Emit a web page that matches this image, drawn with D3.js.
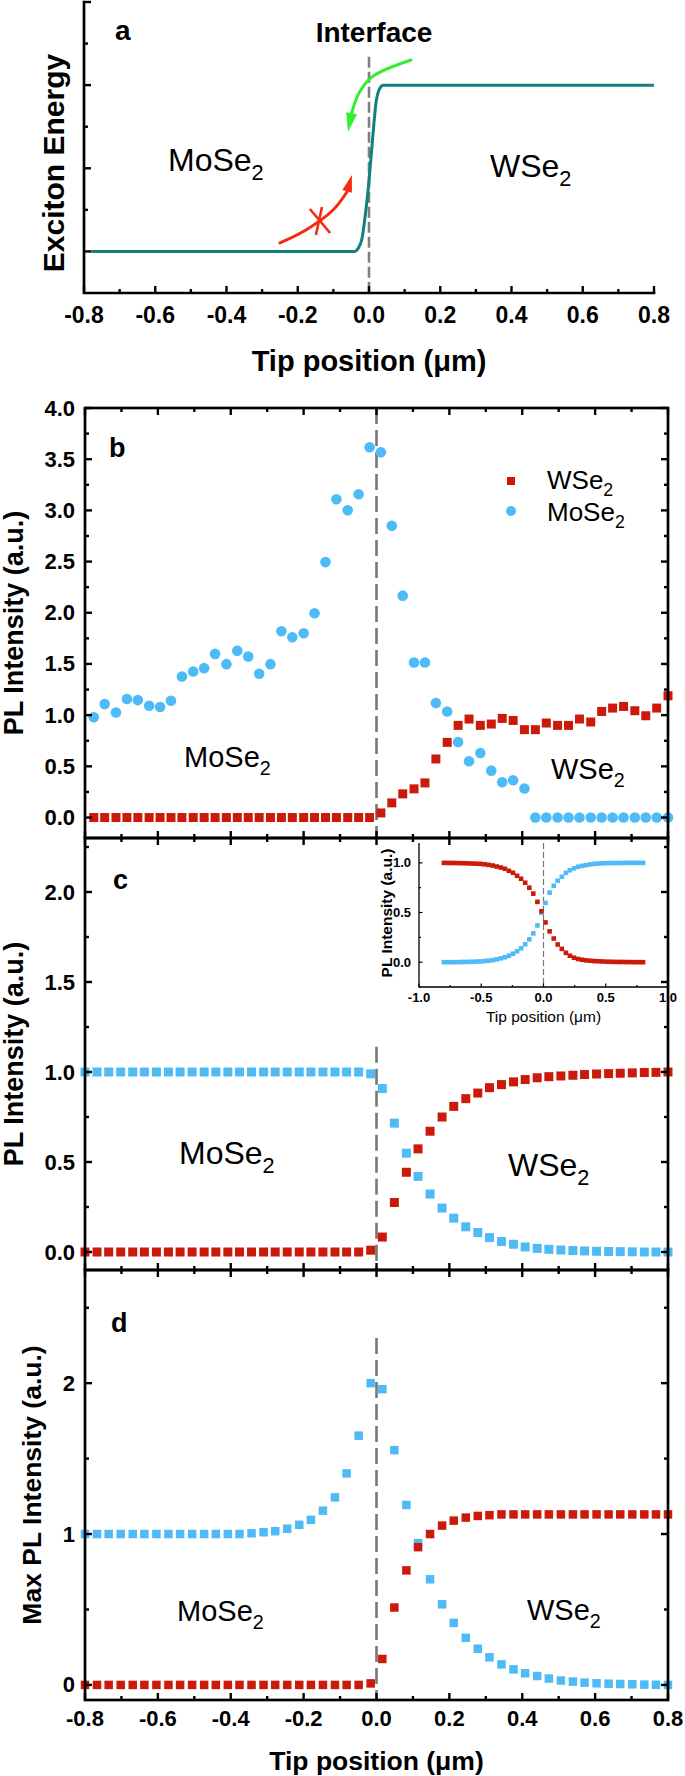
<!DOCTYPE html>
<html><head><meta charset="utf-8">
<script src="https://cdn.jsdelivr.net/npm/d3@7"></script>
<style>
body{margin:0;background:#fff}
svg{display:block}
text{font-family:"Liberation Sans",Arial,Helvetica,sans-serif;fill:#000}
</style></head>
<body><svg id="fig" width="685" height="1776"></svg>
<script>
// ---------- DATA ----------
// panel a: schematic exciton energy step
const aX = [-0.78, -0.04, -0.03, -0.02, -0.01, 0, 0.01, 0.02, 0.03, 0.04, 0.8];
const aY = [1, 1, 1.04, 1.15, 1.45, 1.85, 2.35, 2.8, 2.96, 3, 3];
const aYMajor = [1, 2, 3, 4];
const aYMinor = [1.5, 2.5, 3.5];
// annotation arrows in panel a (data coordinates)
const greenArrow = [[0.118, 3.302], [0.008, 3.098], [-0.028, 2.906], [-0.048, 2.677]];
const greenTip = [-0.059, 2.437];
const redArrow = [[-0.25, 1.103], [-0.177, 1.258], [-0.101, 1.498], [-0.062, 1.715]];
const redTip = [-0.048, 1.919];
const redCross = [[[-0.166, 1.510], [-0.109, 1.222]], [[-0.132, 1.534], [-0.149, 1.198]]];

// shared x ticks
const xMajor = [-0.8, -0.6, -0.4, -0.2, 0, 0.2, 0.4, 0.6, 0.8];
const xMinor = [-0.7, -0.5, -0.3, -0.1, 0.1, 0.3, 0.5, 0.7];
const xLabels = ["-0.8", "-0.6", "-0.4", "-0.2", "0.0", "0.2", "0.4", "0.6", "0.8"];

// panel b: measured PL intensity
const bX = [-0.776, -0.746, -0.715, -0.685, -0.655, -0.624, -0.594, -0.564, -0.534, -0.503,
  -0.473, -0.443, -0.412, -0.382, -0.352, -0.322, -0.291, -0.261, -0.231, -0.200,
  -0.170, -0.140, -0.110, -0.079, -0.049, -0.019, 0.012, 0.042, 0.072, 0.103,
  0.133, 0.163, 0.194, 0.224, 0.254, 0.285, 0.315, 0.345, 0.375, 0.406,
  0.436, 0.466, 0.497, 0.527, 0.557, 0.588, 0.618, 0.648, 0.678, 0.709,
  0.739, 0.769, 0.800];
const bMoSe2 = [0.98, 1.108, 1.026, 1.157, 1.147, 1.092, 1.079, 1.14, 1.377, 1.426,
  1.459, 1.598, 1.498, 1.628, 1.572, 1.404, 1.498, 1.82, 1.76, 1.80,
  1.995, 2.495, 3.109, 3.002, 3.158, 3.616, 3.567, 2.849, 2.167, 1.514,
  1.514, 1.118, 1.036, 0.737, 0.549, 0.63, 0.458, 0.344, 0.364, 0.283,
  0, 0, 0, 0, 0, 0, 0, 0, 0, 0, 0, 0, 0];
const bWSe2 = [0, 0, 0, 0, 0, 0, 0, 0, 0, 0, 0, 0, 0, 0, 0, 0, 0, 0, 0, 0, 0, 0, 0, 0, 0, 0,
  0.045, 0.143, 0.231, 0.28, 0.338, 0.572, 0.734, 0.90, 0.962, 0.90,
  0.913, 0.968, 0.948, 0.858, 0.858, 0.923, 0.90, 0.90, 0.962, 0.933,
  1.036, 1.069, 1.085, 1.043, 0.994, 1.069, 1.189];
const bYMajor = [0, 0.5, 1, 1.5, 2, 2.5, 3, 3.5, 4];
const bYMinor = [0.25, 0.75, 1.25, 1.75, 2.25, 2.75, 3.25, 3.75];

// panels c, d, inset: simulated
const cdX = [-0.800, -0.767, -0.735, -0.702, -0.669, -0.637, -0.604, -0.571, -0.539, -0.506,
  -0.473, -0.441, -0.408, -0.376, -0.343, -0.310, -0.278, -0.245, -0.212, -0.180,
  -0.147, -0.114, -0.082, -0.049, -0.016, 0.016, 0.049, 0.082, 0.114, 0.147,
  0.180, 0.212, 0.245, 0.278, 0.310, 0.343, 0.376, 0.408, 0.441, 0.473,
  0.506, 0.539, 0.571, 0.604, 0.637, 0.669, 0.702, 0.735, 0.767, 0.800];
const cWSe2 = [0, 0, 0, 0, 0, 0, 0, 0, 0, 0, 0, 0, 0, 0, 0, 0, 0, 0, 0, 0, 0, 0, 0, 0, 0.01,
  0.083, 0.275, 0.443, 0.573, 0.671, 0.75, 0.809, 0.852, 0.883, 0.913,
  0.93, 0.945, 0.958, 0.968, 0.974, 0.978, 0.982, 0.986, 0.989, 0.991,
  0.993, 0.995, 0.997, 0.998, 1.0];
const cMoSe2 = [1, 1, 1, 1, 1, 1, 1, 1, 1, 1, 1, 1, 1, 1, 1, 1, 1, 1, 1, 1, 1, 1, 1, 1, 0.99,
  0.908, 0.716, 0.549, 0.42, 0.322, 0.244, 0.188, 0.14, 0.108, 0.08,
  0.058, 0.043, 0.028, 0.02, 0.015, 0.011, 0.008, 0.006, 0.004, 0.003,
  0.002, 0.001, 0, 0, 0];
const cYMajor = [0, 0.5, 1, 1.5, 2];
const cYMinor = [0.25, 0.75, 1.25, 1.75, 2.25];

const dWSe2 = [0, 0, 0, 0, 0, 0, 0, 0, 0, 0, 0, 0, 0, 0, 0, 0, 0, 0, 0, 0, 0, 0, 0, 0, 0.01,
  0.172, 0.513, 0.759, 0.913, 1.0, 1.056, 1.089, 1.109, 1.12, 1.125,
  1.13, 1.13, 1.13, 1.13, 1.13, 1.13, 1.13, 1.13, 1.13, 1.13, 1.13, 1.13, 1.13, 1.13, 1.13];
const dMoSe2 = [1, 1, 1, 1, 1, 1, 1, 1, 1, 1, 1, 1, 1, 1,
  1.005, 1.012, 1.019, 1.035, 1.061, 1.094, 1.155, 1.243, 1.402, 1.652, 2.0,
  1.96, 1.556, 1.193, 0.94, 0.70, 0.534, 0.411, 0.312, 0.24, 0.183,
  0.136, 0.103, 0.077, 0.059, 0.042, 0.029, 0.022, 0.015, 0.011, 0.008,
  0.006, 0.004, 0.002, 0.001, 0];
const dYMajor = [0, 1, 2];
const dYMinor = [0.5, 1.5, 2.5];

const insWSe2 = [1.0, 0.999, 0.999, 0.998, 0.997, 0.996, 0.995, 0.993, 0.992, 0.99,
  0.985, 0.98, 0.973, 0.963, 0.953, 0.94, 0.92, 0.90, 0.87, 0.84,
  0.80, 0.75, 0.69, 0.607, 0.513, 0.40, 0.31, 0.238, 0.178, 0.134,
  0.094, 0.065, 0.045, 0.032, 0.024, 0.018, 0.014, 0.011, 0.009, 0.007,
  0.005, 0.004, 0.003, 0.002, 0.002, 0.001, 0.001, 0, 0, 0];
const insMoSe2 = [0, 0, 0, 0, 0.001, 0.002, 0.003, 0.004, 0.006, 0.008,
  0.011, 0.015, 0.02, 0.028, 0.038, 0.05, 0.065, 0.085, 0.11, 0.14,
  0.18, 0.23, 0.29, 0.37, 0.497, 0.597, 0.70, 0.77, 0.82, 0.86,
  0.90, 0.925, 0.945, 0.96, 0.97, 0.978, 0.985, 0.99, 0.993, 0.995,
  0.997, 0.998, 0.998, 0.999, 0.999, 1.0, 1.0, 1.0, 1.0, 1.0];
const insXMajor = [-1, -0.5, 0, 0.5, 1];
const insXMinor = [-0.75, -0.25, 0.25, 0.75];
const insXLabels = ["-1.0", "-0.5", "0.0", "0.5", "1.0"];
const insYMajor = [0, 0.5, 1];
const insYMinor = [-0.25, 0.25, 0.75];

// ---------- STYLE ----------
const RED = "#cc1a0a", BLUE = "#4fbbf6", TEAL = "#138080";
const svg = d3.select("#fig");
const AXW = 2.7;

function sub(sel, main, s, fs, x, y) {
  const t = sel.append("text").attr("x", x).attr("y", y).attr("font-size", fs).text(main);
  t.append("tspan").attr("font-size", fs * 0.68).attr("dy", fs * 0.28).text(s);
  return t;
}
function boldText(x, y, fs, str, anchor) {
  return svg.append("text").attr("x", x).attr("y", y).attr("font-size", fs)
    .attr("font-weight", "bold").attr("text-anchor", anchor || "start").text(str);
}
function vTitle(x, y, fs, str) {
  svg.append("text").attr("transform", `translate(${x},${y}) rotate(-90)`)
    .attr("font-size", fs).attr("font-weight", "bold").attr("text-anchor", "middle").text(str);
}
function tick(g, x1, y1, x2, y2, w) {
  g.append("line").attr("x1", x1).attr("y1", y1).attr("x2", x2).attr("y2", y2)
    .attr("stroke", "#000").attr("stroke-width", w || 2.4);
}

// ---------- PANEL A ----------
const xa = d3.scaleLinear([-0.8, 0.8], [84, 654]);
const ya = d3.scaleLinear([0.5, 4], [293, 2]);
const ga = svg.append("g");
ga.append("line").attr("x1", xa(0)).attr("x2", xa(0)).attr("y1", ya(3.34)).attr("y2", ya(0.5))
  .attr("stroke", "#808080").attr("stroke-width", 2.6).attr("stroke-dasharray", "11,4");
ga.append("path").attr("d", d3.line().x((d, i) => xa(aX[i])).y((d, i) => ya(aY[i])).curve(d3.curveMonotoneX)(aX))
  .attr("fill", "none").attr("stroke", TEAL).attr("stroke-width", 3);

function arrow(pts, tip, color, hl, hw) {
  const P = pts.map(p => [xa(p[0]), ya(p[1])]);
  const T = [xa(tip[0]), ya(tip[1])];
  const last = P[P.length - 1];
  ga.append("path").attr("d", d3.line().curve(d3.curveCatmullRom)(P))
    .attr("fill", "none").attr("stroke", color).attr("stroke-width", 3).attr("stroke-linecap", "round");
  const dx = T[0] - last[0], dy = T[1] - last[1], L = Math.hypot(dx, dy);
  const ux = dx / L, uy = dy / L;
  const bx = T[0] - ux * hl, by = T[1] - uy * hl;
  ga.append("polygon").attr("points", [[T[0], T[1]], [bx - uy * hw / 2, by + ux * hw / 2], [bx + uy * hw / 2, by - ux * hw / 2]].map(p => p.join(",")).join(" "))
    .attr("fill", color);
  ga.append("line").attr("x1", last[0]).attr("y1", last[1]).attr("x2", bx).attr("y2", by)
    .attr("stroke", color).attr("stroke-width", 3);
}
arrow(greenArrow, greenTip, "#33ee33", 19, 11);
arrow(redArrow, redTip, "#f52a12", 17, 10);
redCross.forEach(s => ga.append("line").attr("x1", xa(s[0][0])).attr("y1", ya(s[0][1]))
  .attr("x2", xa(s[1][0])).attr("y2", ya(s[1][1])).attr("stroke", "#f52a12").attr("stroke-width", 2.6));

// axes a
ga.append("path").attr("d", `M${xa(-0.8)},${ya(4)} V${ya(0.5)} H${xa(0.8)}`)
  .attr("fill", "none").attr("stroke", "#000").attr("stroke-width", AXW).attr("stroke-linecap", "square");
xMajor.forEach(v => tick(ga, xa(v), ya(0.5), xa(v), ya(0.5) - 7));
xMinor.forEach(v => tick(ga, xa(v), ya(0.5), xa(v), ya(0.5) - 4));
aYMajor.forEach(v => tick(ga, xa(-0.8), ya(v), xa(-0.8) + 7, ya(v)));
aYMinor.forEach(v => tick(ga, xa(-0.8), ya(v), xa(-0.8) + 4, ya(v)));
xMajor.forEach((v, i) => boldText(xa(v), 323, 23, xLabels[i], "middle"));
boldText(xa(0), 371, 29, "Tip position (μm)", "middle");
vTitle(64, 163, 30, "Exciton Energy");
boldText(115, 40, 28, "a");
boldText(374, 42, 28, "Interface", "middle");
sub(svg, "MoSe", "2", 32, 168, 171);
sub(svg, "WSe", "2", 32, 490, 177);

// ---------- PANELS B, C, D ----------
const xs = d3.scaleLinear([-0.8, 0.8], [85, 668]);
const panels = [
  {top: 408, bottom: 838, dom: [-0.2, 4.0], major: bYMajor, minor: bYMinor, fmt: d3.format(".1f"), dash: 4.0},
  {top: 838, bottom: 1270, dom: [-0.1, 2.3], major: cYMajor, minor: cYMinor, fmt: d3.format(".1f"), dash: 1.14},
  {top: 1270, bottom: 1700, dom: [-0.1, 2.75], major: dYMajor, minor: dYMinor, fmt: d3.format("d"), dash: 2.3}
];
panels.forEach(p => { p.y = d3.scaleLinear(p.dom, [p.bottom, p.top]); p.g = svg.append("g"); });

// dashed interface lines
panels.forEach(p => p.g.append("line").attr("x1", xs(0)).attr("x2", xs(0))
  .attr("y1", p.y(p.dash)).attr("y2", p.bottom)
  .attr("stroke", "#777").attr("stroke-width", 2.6).attr("stroke-dasharray", "16,6"));

function squares(g, X, Y, ys, s, color) {
  g.selectAll(null).data(X).enter().append("rect")
    .attr("x", (d, i) => xs(d) - s / 2).attr("y", (d, i) => ys(Y[i]) - s / 2)
    .attr("width", s).attr("height", s).attr("fill", color);
}
// panel b
const pb = panels[0];
pb.g.selectAll(null).data(bX).enter().append("circle")
  .attr("cx", d => xs(d)).attr("cy", (d, i) => pb.y(bMoSe2[i])).attr("r", 5.3).attr("fill", BLUE);
squares(pb.g, bX, bWSe2, pb.y, 9, RED);
// panel c
const pc = panels[1];
squares(pc.g, cdX, cMoSe2, pc.y, 9, BLUE);
squares(pc.g, cdX, cWSe2, pc.y, 9, RED);
// panel d
const pd = panels[2];
squares(pd.g, cdX, dMoSe2, pd.y, 8.5, BLUE);
squares(pd.g, cdX, dWSe2, pd.y, 8.5, RED);

// inset in c
const xi = d3.scaleLinear([-1, 1], [419, 668]);
const yi = d3.scaleLinear([-0.25, 1.2], [987, 843]);
const gi = svg.append("g");
gi.append("line").attr("x1", xi(0)).attr("x2", xi(0)).attr("y1", yi(1.2)).attr("y2", yi(-0.25))
  .attr("stroke", "#777").attr("stroke-width", 1.2).attr("stroke-dasharray", "6,3");
[[insMoSe2, BLUE], [insWSe2, RED]].forEach(([Y, col]) => {
  gi.selectAll(null).data(cdX).enter().append("rect")
    .attr("x", d => xi(d) - 2.3).attr("y", (d, i) => yi(Y[i]) - 2.3)
    .attr("width", 4.6).attr("height", 4.6).attr("fill", col);
});
gi.append("path").attr("d", `M${xi(-1)},${yi(1.2)} V${yi(-0.25)} H${xi(1)}`)
  .attr("fill", "none").attr("stroke", "#000").attr("stroke-width", 1.3);
insXMajor.forEach(v => tick(gi, xi(v), yi(-0.25), xi(v), yi(-0.25) - 3.5, 1.2));
insXMinor.forEach(v => tick(gi, xi(v), yi(-0.25), xi(v), yi(-0.25) - 2, 1.2));
insYMajor.forEach(v => tick(gi, xi(-1), yi(v), xi(-1) + 3.5, yi(v), 1.2));
insYMinor.forEach(v => tick(gi, xi(-1), yi(v), xi(-1) + 2, yi(v), 1.2));
insXMajor.forEach((v, i) => boldText(xi(v), 1002, 13, insXLabels[i], "middle"));
insYMajor.forEach(v => boldText(411, yi(v) + 4.6, 13, d3.format(".1f")(v), "end"));
svg.append("text").attr("x", xi(0)).attr("y", 1022).attr("font-size", 15.5)
  .attr("text-anchor", "middle").text("Tip position (μm)");
vTitle(392, 913, 15.5, "PL Intensity (a.u.)");

// frames, ticks, labels
panels.forEach(p => {
  const g = svg.append("g");
  g.append("rect").attr("x", xs(-0.8)).attr("y", p.top).attr("width", xs(0.8) - xs(-0.8))
    .attr("height", p.bottom - p.top).attr("fill", "none").attr("stroke", "#000").attr("stroke-width", AXW);
  xMajor.forEach(v => { tick(g, xs(v), p.bottom, xs(v), p.bottom - 7); tick(g, xs(v), p.top, xs(v), p.top + 7); });
  xMinor.forEach(v => { tick(g, xs(v), p.bottom, xs(v), p.bottom - 4); tick(g, xs(v), p.top, xs(v), p.top + 4); });
  p.major.forEach(v => { tick(g, xs(-0.8), p.y(v), xs(-0.8) + 7, p.y(v)); tick(g, xs(0.8), p.y(v), xs(0.8) - 7, p.y(v)); });
  p.minor.forEach(v => { tick(g, xs(-0.8), p.y(v), xs(-0.8) + 4, p.y(v)); tick(g, xs(0.8), p.y(v), xs(0.8) - 4, p.y(v)); });
  p.major.forEach(v => boldText(75, p.y(v) + 7.5, 22, p.fmt(v), "end"));
});
xMajor.forEach((v, i) => boldText(xs(v), 1726, 22, xLabels[i], "middle"));
boldText(xs(0), 1770, 26.5, "Tip position (μm)", "middle");
vTitle(23, 623, 27, "PL Intensity (a.u.)");
vTitle(23, 1054, 27, "PL Intensity (a.u.)");
vTitle(41, 1485, 26.5, "Max PL Intensity (a.u.)");
boldText(109, 457, 27, "b");
boldText(113, 889, 27, "c");
boldText(111, 1332, 27, "d");

// legend b
svg.append("rect").attr("x", 507).attr("y", 477).attr("width", 8).attr("height", 8).attr("fill", RED);
svg.append("circle").attr("cx", 511).attr("cy", 511).attr("r", 5).attr("fill", BLUE);
sub(svg, "WSe", "2", 26, 547, 489);
sub(svg, "MoSe", "2", 26, 547, 521);

// region labels
sub(svg, "MoSe", "2", 29, 184, 767);
sub(svg, "WSe", "2", 29, 551, 779);
sub(svg, "MoSe", "2", 32, 179, 1164);
sub(svg, "WSe", "2", 32, 508, 1176);
sub(svg, "MoSe", "2", 29, 177, 1621);
sub(svg, "WSe", "2", 29, 527, 1620);
</script>
</body></html>
